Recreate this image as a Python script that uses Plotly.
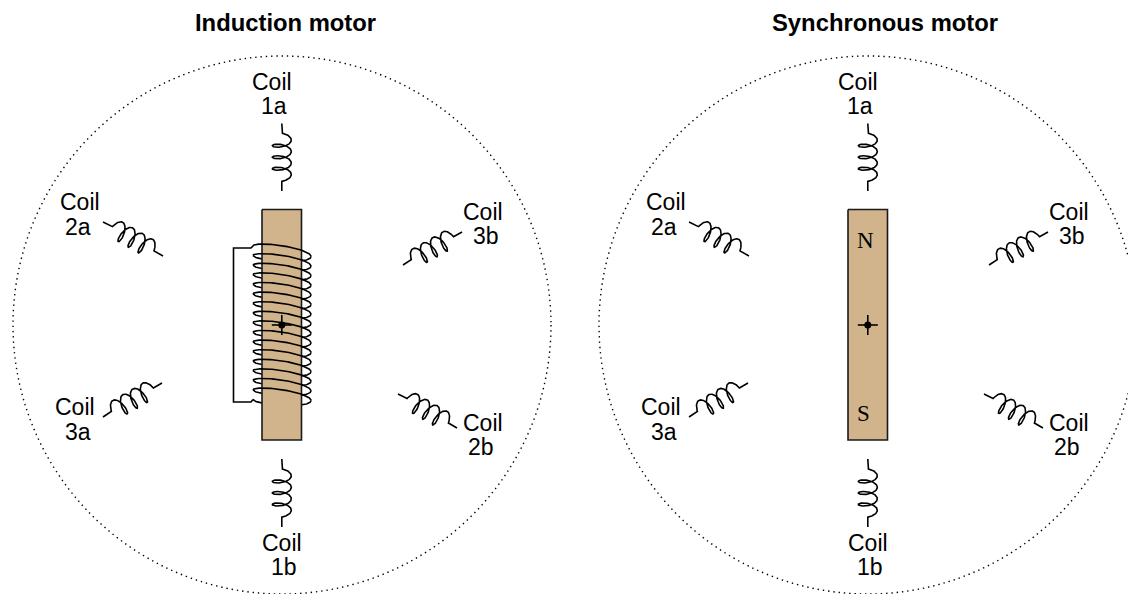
import numpy as np
import plotly.graph_objects as go

W, H = 1128, 594
PANEL_OFFSETS = [0, 586]
TITLES = ["Induction motor", "Synchronous motor"]
TITLE_X = [285.5, 885]
TITLE_Y = 22

CIRCLE_CX, CIRCLE_CY, CIRCLE_R = 282, 325, 269
ROTOR_X = [262, 301.5, 301.5, 262, 262]
ROTOR_Y = [209.5, 209.5, 440, 440, 209.5]
ROTOR_FILL = "#D2B48C"
PIVOT = (281.8, 325)

LABEL_TEXT = ["1a", "2a", "3b", "2b", "3a", "1b"]
LABEL_COIL_X = [272, 80, 483, 483, 75, 282]
LABEL_COIL_Y = [82, 202, 211.5, 423, 407, 543]
LABEL_ID_X = [274, 78, 486, 481, 78, 284]
LABEL_ID_Y = [106, 227, 236, 447, 432, 567]

COIL_START_X = [281.8, 103, 403, 398, 103, 281.8]
COIL_START_Y = [123.5, 222, 265, 394, 417, 459]
COIL_END_X = [281.8, 163, 462, 457, 162, 281.8]
COIL_END_Y = [191, 256, 232, 428, 383, 527]

POLE_TEXT = ["N", "S"]
POLE_X = [865.5, 863]
POLE_Y = [240, 413]

WIND_TURNS = 16
WIND_CX, WIND_RX = 282, 29
WIND_Y0, WIND_PITCH, WIND_BOW, WIND_TILT = 244, 9.6, 5.5, 2.9
LEAD_X = 233.5
LEAD_TOP, LEAD_BOTTOM = 248, 402
LEAD_END_X = 252

LW = 1.6
FONT = "Liberation Sans, Arial, sans-serif"


def inductor(x0, y0, x1, y1):
    dx, dy = x1 - x0, y1 - y0
    L = float(np.hypot(dx, dy))
    ux, uy = dx / L, dy / L
    nx, ny = uy, -ux
    pitch, amp, rad = 11.5, 4.0, 9.5
    th = np.linspace(-np.pi / 2, 6.5 * np.pi, 320)
    s = pitch * th / (2 * np.pi) + amp * np.sin(th)
    v = rad * np.cos(th)
    mid = (s[0] + s[-1]) / 2
    s = s - mid + L / 2
    s = np.concatenate([[0], s, [L]])
    v = np.concatenate([[0], v, [0]])
    return x0 + ux * s + nx * v, y0 + uy * s + ny * v


def winding_xy(th):
    x = WIND_CX + WIND_RX * np.cos(th)
    y = (WIND_Y0 + WIND_PITCH * (th - np.pi) / (2 * np.pi) + WIND_PITCH / 2
         + WIND_BOW * np.sin(th) + WIND_TILT * np.cos(th))
    return x, y


fig = go.Figure()


def path(x, y, w=LW):
    fig.add_trace(go.Scatter(x=list(x), y=list(y), mode="lines",
                             line=dict(color="#000000", width=w),
                             hoverinfo="skip", showlegend=False))


bx, by = [], []
for k in range(WIND_TURNS):
    th = np.linspace(2 * np.pi * (k + 1), 2 * np.pi * (k + 1) + np.pi, 60)
    x, y = winding_xy(th)
    bx += list(x) + [None]
    by += list(y) + [None]
path(bx, by)

for off in PANEL_OFFSETS:
    fig.add_trace(go.Scatter(x=[v + off for v in ROTOR_X], y=ROTOR_Y, mode="lines",
                             fill="toself", fillcolor=ROTOR_FILL,
                             line=dict(color="#1a1a1a", width=LW),
                             hoverinfo="skip", showlegend=False))

for off in PANEL_OFFSETS:
    px, py = PIVOT[0] + off, PIVOT[1]
    path([px - 10, px + 10, None, px, px], [py, py, None, py - 10, py + 10])
    fig.add_trace(go.Scatter(x=[px], y=[py], mode="markers",
                             marker=dict(color="#000000", size=7),
                             hoverinfo="skip", showlegend=False))

fx, fy = [], []
for k in range(WIND_TURNS):
    th = np.linspace(2 * np.pi * k + np.pi, 2 * np.pi * (k + 1), 60)
    x, y = winding_xy(th)
    fx += list(x) + [None]
    fy += list(y) + [None]
path(fx, fy)

_, ty = winding_xy(np.array([np.pi]))
_, ey = winding_xy(np.array([np.pi + 2 * np.pi * WIND_TURNS]))
path([WIND_CX - WIND_RX, LEAD_END_X - 1, LEAD_X, LEAD_X, LEAD_END_X - 1, WIND_CX - WIND_RX],
     [ty[0], LEAD_TOP, LEAD_TOP, LEAD_BOTTOM, LEAD_BOTTOM, ey[0]])

for off in PANEL_OFFSETS:
    for i in range(len(LABEL_TEXT)):
        x, y = inductor(COIL_START_X[i] + off, COIL_START_Y[i], COIL_END_X[i] + off, COIL_END_Y[i])
        path(x, y)
        fig.add_annotation(x=LABEL_COIL_X[i] + off, y=LABEL_COIL_Y[i], text="Coil", showarrow=False,
                           font=dict(family=FONT, size=23, color="#000000"))
        fig.add_annotation(x=LABEL_ID_X[i] + off, y=LABEL_ID_Y[i], text=LABEL_TEXT[i], showarrow=False,
                           font=dict(family=FONT, size=23, color="#000000"))

for t, x in zip(TITLES, TITLE_X):
    fig.add_annotation(x=x, y=TITLE_Y, text="<b>%s</b>" % t, showarrow=False,
                       font=dict(family=FONT, size=23.8, color="#000000"))

for t, x, y in zip(POLE_TEXT, POLE_X, POLE_Y):
    fig.add_annotation(x=x, y=y, text=t, showarrow=False,
                       font=dict(family="Liberation Serif, Times New Roman, serif", size=23, color="#000000"))

for off in PANEL_OFFSETS:
    fig.add_shape(type="circle", xref="x", yref="y",
                  x0=CIRCLE_CX + off - CIRCLE_R, x1=CIRCLE_CX + off + CIRCLE_R,
                  y0=CIRCLE_CY - CIRCLE_R, y1=CIRCLE_CY + CIRCLE_R,
                  line=dict(color="#000000", width=1.4, dash="1.4px,3.9px"))

fig.update_layout(
    width=W, height=H, margin=dict(l=0, r=0, t=0, b=0),
    paper_bgcolor="#ffffff", plot_bgcolor="#ffffff", showlegend=False,
    xaxis=dict(range=[0, W], visible=False, fixedrange=True),
    yaxis=dict(range=[H, 0], visible=False, fixedrange=True),
)
fig.write_html("out.html", config={"displayModeBar": False},
               post_script="document.body.style.margin='0';document.documentElement.style.overflow='hidden';")
